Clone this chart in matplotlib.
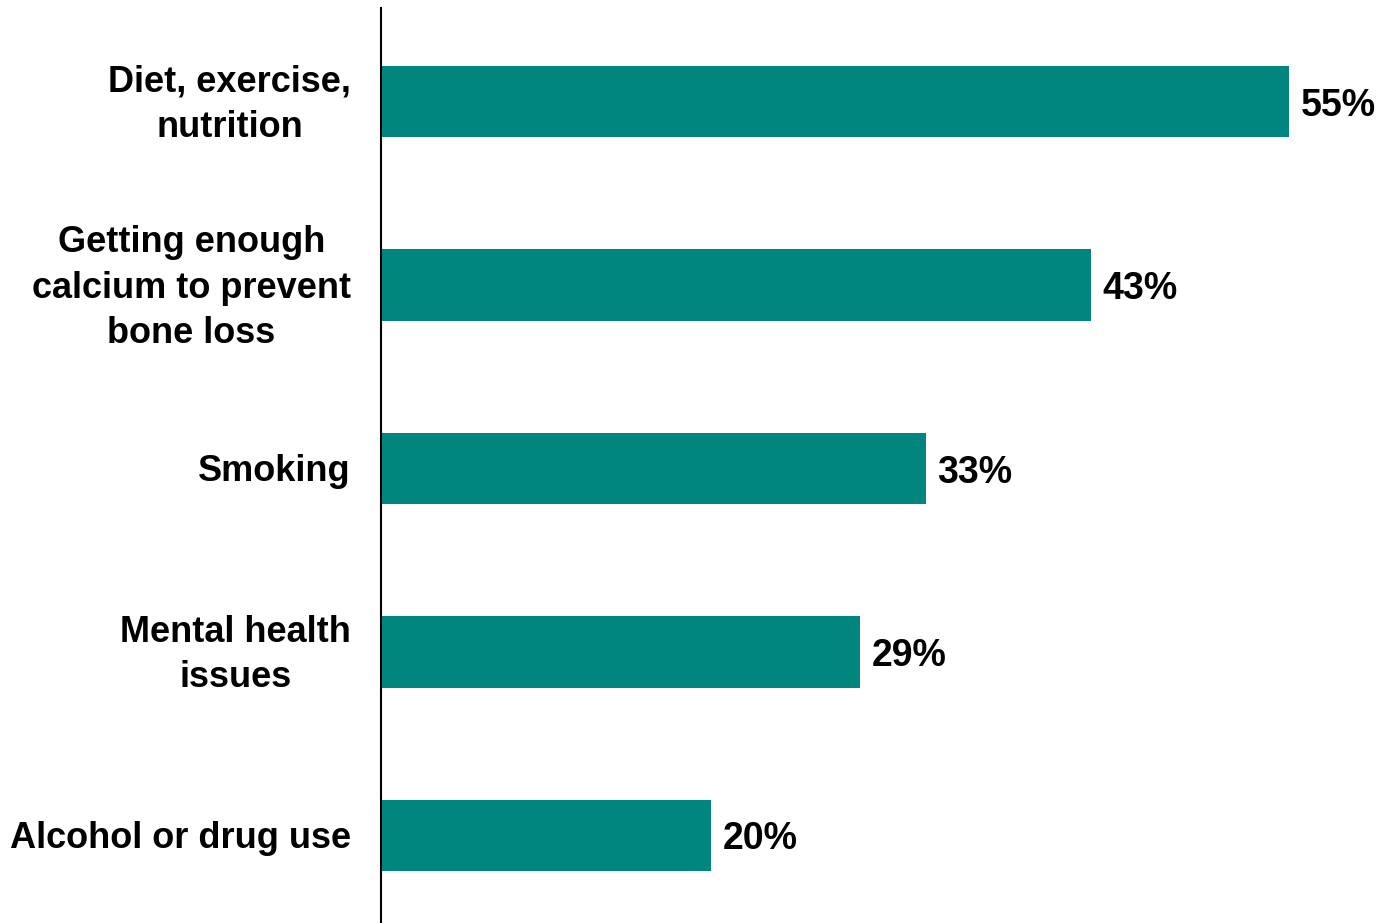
import matplotlib.pyplot as plt
import matplotlib.transforms as mtransforms

plt.rcParams['font.family'] = ['Liberation Sans', 'DejaVu Sans']

categories = ['Diet, exercise,\nnutrition',
              'Getting enough\ncalcium to prevent\nbone loss',
              'Smoking',
              'Mental health\nissues',
              'Alcohol or drug use']
values = [55, 43, 33, 29, 20]

fig = plt.figure(figsize=(13.81, 9.23), dpi=100)
ax = fig.add_axes([0.2759, 0.0, 0.7241, 0.9913])

pos = list(range(len(categories)))
ax.barh(pos, values, height=0.39, color='#00857f')

for p, v in zip(pos, values):
    ax.text(v + 0.7, p, f'{v}%', va='center_baseline', ha='left',
            fontsize=27, fontweight='bold')

ax.set_xlim(0, 60.57)
ax.set_ylim(4.477, -0.51)

# category labels as plain text left of the axis line
trans = mtransforms.blended_transform_factory(ax.transAxes, ax.transData)
for p, cat in zip(pos, categories):
    ax.text(-0.03, p + 0.016, cat, transform=trans, ha='right', va='center',
            multialignment='center', fontsize=26, fontweight='bold',
            linespacing=1.38)

ax.set_yticks([])
ax.set_xticks([])
for s in ['top', 'right', 'bottom']:
    ax.spines[s].set_visible(False)
ax.spines['left'].set_linewidth(1.5)

plt.savefig('out.png')
plt.close()
